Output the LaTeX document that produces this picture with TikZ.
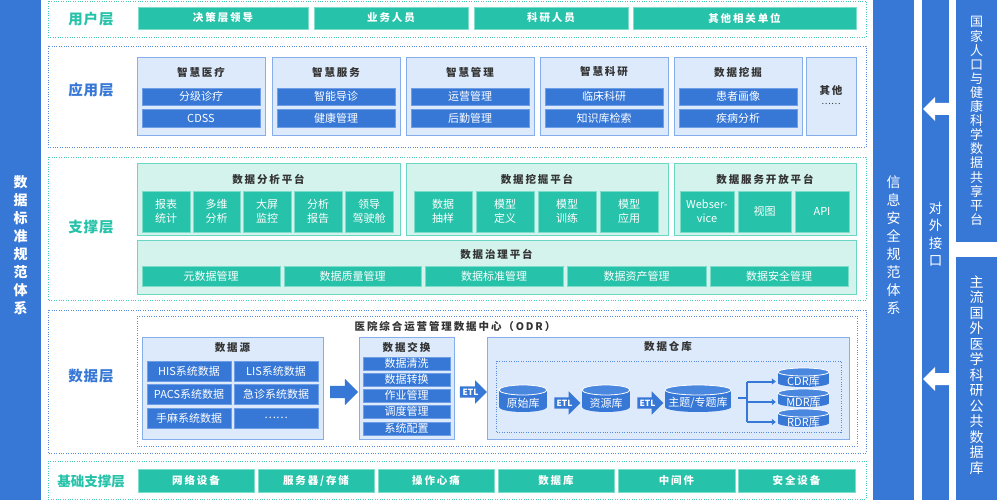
\documentclass[tikz,border=0pt]{standalone}
\usepackage{fontspec}
\setmainfont{Noto Sans CJK SC}
\newfontfamily\spc[LetterSpace=18]{Noto Sans CJK SC}
\newfontfamily\spcs[LetterSpace=6]{Noto Sans CJK SC}
\usetikzlibrary{shapes.arrows,calc,arrows.meta}
\definecolor{mblue}{HTML}{3778D7}
\definecolor{mteal}{HTML}{26C2A9}
\definecolor{lblue}{HTML}{DCEAFB}
\definecolor{lbedge}{HTML}{86AEEC}
\definecolor{lteal}{HTML}{D3F3EC}
\definecolor{ltedge}{HTML}{6AD6C3}
\definecolor{dtext}{HTML}{333333}
\definecolor{cyltop}{HTML}{4A87DE}
\definecolor{bedge}{HTML}{6E9EE6}
\definecolor{tedge}{HTML}{7EDCCB}
\newcommand\mkbox[7]{\node[#1,minimum width={#5pt-#3pt},minimum height={#6pt-#4pt}] (#2) at ({(#3+#5)/2},{(#4+#6)/2}) {#7};}
\newcommand\mkcyl[7]{%
  \fill[mblue] ({(#2+#3)/2},#5) ellipse [x radius={(#3-#2)/2*1pt}, y radius={#6*1pt}];
  \fill[mblue] (#2,#4) rectangle (#3,#5);
  \filldraw[fill=cyltop, draw=white, line width=0.8pt] ({(#2+#3)/2},#4) ellipse [x radius={(#3-#2)/2*1pt}, y radius={#6*1pt}];
  \node[cyltxt, minimum width={#3pt-#2pt}, minimum height={#5pt-#4pt}] (#1) at ({(#2+#3)/2},{(#4+#5)/2+#6/2+2}) {#7};}
\begin{document}
\begin{tikzpicture}[x=1pt,y=-1pt,
  box/.style={inner sep=0pt, outer sep=0pt, align=center},
  bar/.style={box, fill=mblue},
  vt/.style={align=center, text=white, inner sep=0pt},
  tealbox/.style={box, fill=mteal, draw=tedge, line width=0.8pt, text=white, font=\spc\bfseries\fontsize{10.5}{13}\selectfont},
  bpanel/.style={box, fill=lblue, draw=lbedge, line width=1pt},
  tpanel/.style={box, fill=lteal, draw=ltedge, line width=1pt},
  bitem/.style={box, fill=mblue, draw=bedge, line width=0.6pt, text=white, font=\fontsize{11}{13}\selectfont},
  titem/.style={box, fill=mteal, draw=tedge, line width=0.6pt, text=white, font=\fontsize{11}{14}\selectfont},
  ptitle/.style={inner sep=0pt, text=dtext, font=\spc\bfseries\fontsize{10.5}{13}\selectfont},
  lay/.style={inner sep=0pt, font=\spcs\bfseries\fontsize{14.5}{17}\selectfont},
  tdot/.style={draw=mteal!85, line width=0.9pt, dash pattern=on 0.9pt off 1.5pt},
  bdot/.style={draw=mblue!85, line width=0.9pt, dash pattern=on 0.9pt off 1.5pt},
  cyltxt/.style={inner sep=0pt, text=white, font=\fontsize{11}{13}\selectfont},
  blockarr/.style={single arrow, fill=mblue, inner xsep=1pt, inner ysep=2.5pt, text height=6pt, text depth=0pt, single arrow head extend=6pt, single arrow head indent=0pt, text=white, font=\bfseries\fontsize{8.5}{9}\selectfont},
  conn/.style={draw=mblue, line width=2pt},
]
\useasboundingbox (0,0) rectangle (997,500);

% ---------- side bars ----------
\mkbox{bar}{lbar}{0}{0}{41}{500}{}
\node[vt, font=\bfseries\fontsize{14}{18}\selectfont] (lbart) at (20.5,245) {数\\据\\标\\准\\规\\范\\体\\系};
\mkbox{bar}{sbar}{873}{0}{914}{500}{}
\node[vt, font=\fontsize{14}{18}\selectfont] (sbart) at (893.5,245) {信\\息\\安\\全\\规\\范\\体\\系};
\mkbox{bar}{ibar}{922}{0}{949}{500}{}
\node[vt, font=\fontsize{13.5}{17.5}\selectfont] (ibart) at (935.5,234) {对\\外\\接\\口};
\mkbox{bar}{nbar}{956}{0}{997}{242}{}
\node[vt, font=\fontsize{13}{14.1}\selectfont] (nbart) at (976.5,121) {国\\家\\人\\口\\与\\健\\康\\科\\学\\数\\据\\共\\享\\平\\台};
\mkbox{bar}{fbar}{956}{257}{997}{500}{}
\node[vt, font=\fontsize{14}{15.5}\selectfont] (fbart) at (976.5,375) {主\\流\\国\\外\\医\\学\\科\\研\\公\\共\\数\\据\\库};
\fill[white] (923,109) -- (935,97) -- (935,103) -- (949,103) -- (949,115) -- (935,115) -- (935,121) -- cycle;
\fill[white] (923,379) -- (935,367) -- (935,373) -- (949,373) -- (949,385) -- (935,385) -- (935,391) -- cycle;

% ---------- user layer ----------
\draw[tdot] (48,1) rectangle (866,37);
\node[lay, text=mteal] (Lu) at (91,19) {用户层};
\mkbox{tealbox}{u1}{138}{7}{308}{29}{决策层领导}
\mkbox{tealbox}{u2}{314}{7}{468}{29}{业务人员}
\mkbox{tealbox}{u3}{474}{7}{628}{29}{科研人员}
\mkbox{tealbox}{u4}{633}{7}{856}{29}{其他相关单位}

% ---------- application layer ----------
\draw[bdot] (48,46) rectangle (866,147);
\node[lay, text=mblue] (La) at (91,90) {应用层};
\mkbox{bpanel}{a1}{137}{58}{265}{136}{}
\mkbox{bpanel}{a2}{272}{58}{400}{136}{}
\mkbox{bpanel}{a3}{406}{58}{534}{136}{}
\mkbox{bpanel}{a4}{540}{58}{668}{136}{}
\mkbox{bpanel}{a5}{674}{58}{802}{136}{}
\mkbox{bpanel}{a6}{806}{58}{856}{136}{}
\node[ptitle] (a1t) at (201,72) {智慧医疗};
\node[ptitle] (a2t) at (336,72) {智慧服务};
\node[ptitle] (a3t) at (470,72) {智慧管理};
\node[ptitle] (a4t) at (604,72) {智慧科研};
\node[ptitle] (a5t) at (738,72) {数据挖掘};
\node[ptitle] (a6t) at (831,91) {其他};
\node[inner sep=0pt, text=dtext, font=\fontsize{9}{10}\selectfont] (a6d) at (831,104) {……};
\mkbox{bitem}{a11}{142}{88}{260}{105}{分级诊疗}
\mkbox{bitem}{a12}{142}{109}{260}{127}{CDSS}
\mkbox{bitem}{a21}{277}{88}{395}{105}{智能导诊}
\mkbox{bitem}{a22}{277}{109}{395}{127}{健康管理}
\mkbox{bitem}{a31}{411}{88}{529}{105}{运营管理}
\mkbox{bitem}{a32}{411}{109}{529}{127}{后勤管理}
\mkbox{bitem}{a41}{545}{88}{663}{105}{临床科研}
\mkbox{bitem}{a42}{545}{109}{663}{127}{知识库检索}
\mkbox{bitem}{a51}{679}{88}{797}{105}{患者画像}
\mkbox{bitem}{a52}{679}{109}{797}{127}{疾病分析}

% ---------- support layer ----------
\draw[tdot] (48,157) rectangle (866,300);
\node[lay, text=mteal] (Ls) at (91,227) {支撑层};
\mkbox{tpanel}{p1}{137}{164}{400}{236}{}
\mkbox{tpanel}{p2}{406}{164}{668}{236}{}
\mkbox{tpanel}{p3}{674}{164}{856}{236}{}
\mkbox{tpanel}{p4}{137}{241}{856}{294}{}
\node[ptitle] (p1t) at (268.5,179) {数据分析平台};
\node[ptitle] (p2t) at (537,179) {数据挖掘平台};
\node[ptitle] (p3t) at (765,179) {数据服务开放平台};
\node[ptitle] (p4t) at (496.5,254) {数据治理平台};
\mkbox{titem}{p11}{142}{191}{190}{232}{报表\\统计}
\mkbox{titem}{p12}{193}{191}{240}{232}{多维\\分析}
\mkbox{titem}{p13}{243}{191}{291}{232}{大屏\\监控}
\mkbox{titem}{p14}{294}{191}{342}{232}{分析\\报告}
\mkbox{titem}{p15}{345}{191}{393}{232}{领导\\驾驶舱}
\mkbox{titem}{p21}{414}{191}{472}{232}{数据\\抽样}
\mkbox{titem}{p22}{476}{191}{534}{232}{模型\\定义}
\mkbox{titem}{p23}{538}{191}{596}{232}{模型\\训练}
\mkbox{titem}{p24}{600}{191}{658}{232}{模型\\应用}
\mkbox{titem}{p31}{680}{191}{734}{232}{Webser-\\vice}
\mkbox{titem}{p32}{738}{191}{791}{232}{视图}
\mkbox{titem}{p33}{795}{191}{849}{232}{API}
\mkbox{titem}{p41}{142}{266}{280}{286}{元数据管理}
\mkbox{titem}{p42}{284}{266}{421}{286}{数据质量管理}
\mkbox{titem}{p43}{425}{266}{563}{286}{数据标准管理}
\mkbox{titem}{p44}{567}{266}{706}{286}{数据资产管理}
\mkbox{titem}{p45}{710}{266}{848}{286}{数据安全管理}

% ---------- data layer ----------
\draw[bdot] (48,310) rectangle (866,453);
\node[lay, text=mblue] (Ld) at (91,376) {数据层};
\draw[bdot] (137,316) rectangle (857,446);
\node[ptitle] (odrt) at (455,327) {医院综合运营管理数据中心（ODR）};
% data source
\mkbox{bpanel}{src}{142}{337}{323}{439}{}
\node[ptitle] (srct) at (232.5,348) {数据源};
\mkbox{bitem}{s11}{147}{361}{231}{381}{HIS系统数据}
\mkbox{bitem}{s12}{234}{361}{318}{381}{LIS系统数据}
\mkbox{bitem}{s21}{147}{384}{231}{404}{PACS系统数据}
\mkbox{bitem}{s22}{234}{384}{318}{404}{急诊系统数据}
\mkbox{bitem}{s31}{147}{408}{231}{428}{手麻系统数据}
\mkbox{bitem}{s32}{234}{408}{318}{428}{……}
% exchange
\mkbox{bpanel}{exch}{359}{337}{454}{439}{}
\node[ptitle] (excht) at (406.5,347) {数据交换};
\mkbox{bitem}{e1}{363}{357}{450}{370}{数据清洗}
\mkbox{bitem}{e2}{363}{373}{450}{386}{数据转换}
\mkbox{bitem}{e3}{363}{389}{450}{402}{作业管理}
\mkbox{bitem}{e4}{363}{405}{450}{418}{调度管理}
\mkbox{bitem}{e5}{363}{422}{450}{435}{系统配置}
% warehouse
\mkbox{bpanel}{wh}{487}{337}{849}{439}{}
\node[ptitle] (wht) at (668,347) {数据仓库};
\draw[bdot] (496,361) rectangle (841,432);
\mkcyl{yk}{499}{547}{390}{407}{5}{原始库}
\mkcyl{zy}{582}{630}{390}{407}{5}{资源库}
\mkcyl{theme}{665}{731}{390}{407}{5}{主题/专题库}
\mkcyl{cdr}{778}{829}{372}{383}{4}{CDR库}
\mkcyl{mdr}{778}{829}{393}{403}{4}{MDR库}
\mkcyl{rdr}{778}{829}{413}{423}{4}{RDR库}
% block arrows
\node[blockarr, inner ysep=6pt, text height=0pt, single arrow head extend=7pt, minimum height=28pt] (arr1) at ([yshift=-4pt]$(src.east)!0.5!(exch.west)$) {};
\node[blockarr, minimum height=27pt] (arr2) at ([yshift=-4pt]$(exch.east)!0.5!(wh.west)$) {ETL};
\node[blockarr, minimum height=26pt] (arr3) at ($(yk.east)!0.5!(zy.west)$) {ETL};
\node[blockarr, minimum height=26pt] (arr4) at ($(zy.east)!0.5!(theme.west)$) {ETL};
% branching
\coordinate (br) at (747,398);
\draw[conn, shorten <=7pt] (theme.east |- br) -- (br);
\draw[conn] (br |- cdr.west) -- (br |- rdr.west);
\draw[conn, -{Triangle[length=4pt,width=6pt]}] (br |- cdr.west) -- ([xshift=-2pt]cdr.west);
\draw[conn, -{Triangle[length=4pt,width=6pt]}] (br |- mdr.west) -- ([xshift=-2pt]mdr.west);
\draw[conn, -{Triangle[length=4pt,width=6pt]}] (br |- rdr.west) -- ([xshift=-2pt]rdr.west);

% ---------- base layer ----------
\draw[tdot] (48,461) rectangle (866,499);
\node[lay, text=mteal, font=\bfseries\fontsize{13.5}{16}\selectfont] (Lb) at (91,481) {基础支撑层};
\mkbox{tealbox}{b1}{138}{469}{254}{492}{网络设备}
\mkbox{tealbox}{b2}{258}{469}{374}{492}{服务器/存储}
\mkbox{tealbox}{b3}{378}{469}{494}{492}{操作心痛}
\mkbox{tealbox}{b4}{498}{469}{614}{492}{数据库}
\mkbox{tealbox}{b5}{618}{469}{735}{492}{中间件}
\mkbox{tealbox}{b6}{738}{469}{855}{492}{安全设备}
\end{tikzpicture}
\end{document}
